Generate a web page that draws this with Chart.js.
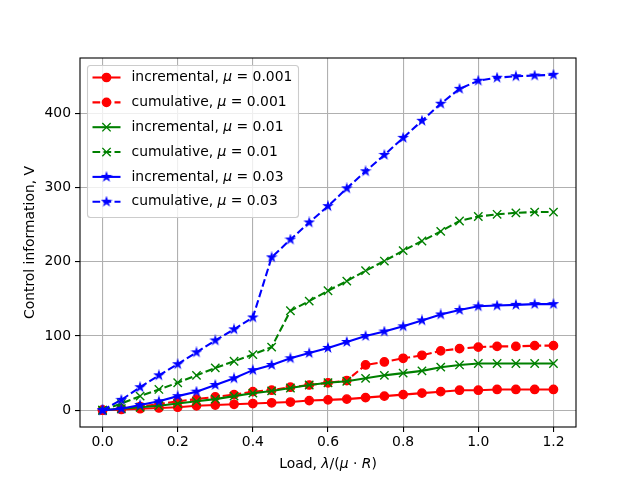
<!DOCTYPE html>
<html>
<head>
<meta charset="utf-8">
<script src="https://cdn.jsdelivr.net/npm/chart.js@4.4.1/dist/chart.umd.min.js"></script>
<style>html,body{margin:0;padding:0;background:#fff}canvas{display:block}</style>
</head>
<body>
<canvas id="c" width="640" height="480"></canvas>
<script>
const loads = [0.0, 0.05, 0.1, 0.15, 0.2, 0.25, 0.3, 0.35, 0.4, 0.45, 0.5, 0.55, 0.6, 0.65, 0.7, 0.75, 0.8, 0.85, 0.9, 0.95, 1.0, 1.05, 1.1, 1.15, 1.2];
const incr001 = [0, 1, 2, 3, 4, 6, 7, 8, 9, 10, 11, 13, 14, 15, 17, 19, 21, 23, 25, 27, 27, 28, 28, 28, 28];
const cum001  = [0, 2, 5, 8, 12, 15, 18, 21, 25, 27, 31, 34, 37, 40, 61, 65, 70, 74, 80, 83, 85, 86, 86, 87, 87];
const incr01  = [0, 2, 4, 6, 9, 12, 15, 19, 23, 26, 30, 34, 37, 39, 43, 47, 50, 53, 58, 61, 63, 63, 63, 63, 63];
const cum01   = [0, 9, 19, 28, 37, 47, 57, 66, 75, 85, 134, 147, 161, 174, 188, 201, 215, 228, 241, 255, 261, 264, 266, 267, 267];
const incr03  = [0, 2, 7, 12, 19, 25, 34, 43, 54, 61, 70, 77, 84, 92, 100, 106, 113, 121, 129, 135, 140, 141, 142, 143, 143];
const cum03   = [0, 14, 31, 47, 62, 78, 94, 109, 125, 206, 230, 253, 275, 299, 322, 344, 367, 390, 413, 433, 444, 448, 450, 451, 452];
const xTicks = [0.0, 0.2, 0.4, 0.6, 0.8, 1.0, 1.2];
const yTicks = [0, 100, 200, 300, 400];
const muLabels = ['0.001', '0.001', '0.01', '0.01', '0.03', '0.03'];
const kinds = ['incremental', 'cumulative', 'incremental', 'cumulative', 'incremental', 'cumulative'];

const FONT = 'DejaVu Sans';
const FS = 13.9;
const DASH = [7.7, 3.3];

function starCanvas(color){
  const c = document.createElement('canvas'); c.width = 12; c.height = 12;
  const g = c.getContext('2d');
  g.beginPath();
  for(let i=0;i<10;i++){
    const r = i%2 ? 4.17*0.382 : 4.17;
    const a = -Math.PI/2 + i*Math.PI/5;
    g.lineTo(6 + r*Math.cos(a), 6 + r*Math.sin(a));
  }
  g.closePath();
  g.fillStyle = color; g.strokeStyle = color; g.lineWidth = 1.2; g.lineJoin = 'miter';
  g.fill(); g.stroke();
  return c;
}
const star = starCanvas('#0000ff');

function pts(ys){ return loads.map((x,i)=>({x, y:ys[i]})); }
function ds(ys, color, dashed, marker, i){
  const o = { label: kinds[i]+', \u03bc = '+muLabels[i], data: pts(ys), borderColor: color, backgroundColor: color,
    borderWidth: 2.08, borderDash: dashed ? DASH : [], pointBorderColor: color, pointBackgroundColor: color,
    pointBorderWidth: 1.39, tension: 0, order: 5 - i, marker };
  if(marker==='o'){ o.pointStyle='circle'; o.pointRadius=4.17; }
  else if(marker==='x'){ o.pointStyle='crossRot'; o.pointRadius=5.9; }
  else { o.pointStyle=star; o.pointRadius=6; }
  o.pointHoverRadius = o.pointRadius;
  return o;
}
const datasets = [
  ds(incr001, '#ff0000', false, 'o', 0),
  ds(cum001,  '#ff0000', true,  'o', 1),
  ds(incr01,  '#008000', false, 'x', 2),
  ds(cum01,   '#008000', true,  'x', 3),
  ds(incr03,  '#0000ff', false, '*', 4),
  ds(cum03,   '#0000ff', true,  '*', 5)
];

function drawParts(ctx, parts, x, y, align){
  const w = parts.map(([t,it]) => { ctx.font = (it?'oblique ':'')+FS+'px "'+FONT+'"'; return ctx.measureText(t).width; });
  const total = w.reduce((a,b)=>a+b,0);
  let cx = align==='center' ? x - total/2 : x;
  ctx.textAlign = 'left';
  parts.forEach(([t,it],k) => { ctx.font = (it?'oblique ':'')+FS+'px "'+FONT+'"'; ctx.fillText(t, cx, y); cx += w[k]; });
}

function drawMarker(ctx, d, x, y){
  ctx.save();
  ctx.fillStyle = d.borderColor; ctx.strokeStyle = d.borderColor; ctx.lineWidth = 1.39; ctx.setLineDash([]);
  if(d.marker==='o'){ ctx.beginPath(); ctx.arc(x,y,4.17,0,Math.PI*2); ctx.fill(); ctx.stroke(); }
  else if(d.marker==='x'){ const h=4.17; ctx.beginPath(); ctx.moveTo(x-h,y-h); ctx.lineTo(x+h,y+h); ctx.moveTo(x-h,y+h); ctx.lineTo(x+h,y-h); ctx.stroke(); }
  else { ctx.drawImage(star, x-6, y-6); }
  ctx.restore();
}

const decor = {
  id: 'decor',
  afterDraw(chart){
    const ctx = chart.ctx, a = chart.chartArea;
    ctx.save();
    // frame
    ctx.strokeStyle = '#000'; ctx.lineWidth = 1.1; ctx.setLineDash([]);
    ctx.strokeRect(a.left, a.top, a.right - a.left, a.bottom - a.top);
    // axis titles
    ctx.fillStyle = '#000'; ctx.textBaseline = 'middle';
    drawParts(ctx, [['Load, ',false],['\u03bb',true],['/(',false],['\u03bc',true],[' \u00b7 ',false],['R',true],[')',false]], (a.left+a.right)/2, 464, 'center');
    ctx.save(); ctx.translate(30, (a.top+a.bottom)/2); ctx.rotate(-Math.PI/2);
    drawParts(ctx, [['Control information, V',false]], 0, 0, 'center');
    ctx.restore();
    // legend
    const lx = 87.5, ly = 65.5, lw = 211, lh = 152;
    ctx.beginPath(); ctx.roundRect(lx, ly, lw, lh, 3);
    ctx.fillStyle = 'rgba(255,255,255,0.8)'; ctx.fill();
    ctx.strokeStyle = '#cccccc'; ctx.lineWidth = 1.1; ctx.stroke();
    chart.data.datasets.forEach((d,i) => {
      const y = 77.5 + i*24.85;
      ctx.save();
      ctx.strokeStyle = d.borderColor; ctx.lineWidth = 2.08; ctx.setLineDash(d.borderDash);
      ctx.beginPath(); ctx.moveTo(92.5, y); ctx.lineTo(120.5, y); ctx.stroke();
      ctx.restore();
      drawMarker(ctx, d, 106.5, y);
      ctx.fillStyle = '#000'; ctx.textBaseline = 'middle';
      drawParts(ctx, [[kinds[i]+', ',false],['\u03bc',true],[' = '+muLabels[i],false]], 131.5, y, 'left');
    });
    ctx.restore();
  }
};

new Chart(document.getElementById('c'), {
  type: 'line',
  data: { datasets },
  options: {
    responsive: false, animation: false, devicePixelRatio: 1,
    layout: { padding: { top: 58, right: 64, left: 0, bottom: 0 } },
    plugins: { legend: { display: false }, tooltip: { enabled: false } },
    scales: {
      x: {
        type: 'linear', min: -0.06, max: 1.26,
        afterBuildTicks: s => { s.ticks = xTicks.map(v => ({ value: v })); },
        afterFit: s => { s.height = 53; },
        ticks: { color: '#000', font: { family: FONT, size: FS }, padding: 2, maxRotation: 0, callback: v => v.toFixed(1) },
        grid: { color: '#b0b0b0', lineWidth: 1.1, tickColor: '#000', tickLength: 5, tickWidth: 1.1 },
        border: { display: false }
      },
      y: {
        type: 'linear', min: -22.6, max: 474.6,
        afterBuildTicks: s => { s.ticks = yTicks.map(v => ({ value: v })); },
        afterFit: s => { s.width = 80; },
        ticks: { color: '#000', font: { family: FONT, size: FS }, padding: 4, callback: v => String(v) },
        grid: { color: '#b0b0b0', lineWidth: 1.1, tickColor: '#000', tickLength: 5, tickWidth: 1.1 },
        border: { display: false }
      }
    }
  },
  plugins: [decor]
});
</script>
</body>
</html>
